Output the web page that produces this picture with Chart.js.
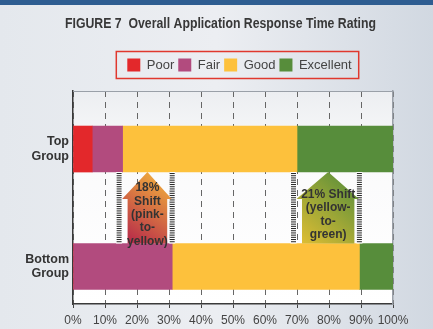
<!DOCTYPE html>
<html lang="en">
<head>
  <meta charset="UTF-8">
  <title>Overall Application Response Time Rating</title>
  <script src="https://cdn.jsdelivr.net/npm/chart.js"></script>
  <style>
    html, body { margin: 0; padding: 0; background: #e6e9ee; }
  </style>
</head>
<body>
  <canvas id="myChart" width="433" height="329"></canvas>

  <script>
    // percent of respondents per rating, [Top Group, Bottom Group]
    const groups = ['Top Group', 'Bottom Group'];
    const ratings = ['Poor', 'Fair', 'Good', 'Excellent'];
    const poor = [6, 0];
    const fair = [9.5, 31];
    const good = [54.5, 58.5];
    const excellent = [30, 10.5];
    const xTicks = [0, 10, 20, 30, 40, 50, 60, 70, 80, 90, 100];
    const titleText = 'FIGURE 7  Overall Application Response Time Rating';

    // shift callouts: rating index whose right edge the arrow spans, and its text lines
    const shiftAfter = [1, 2];
    const shiftNotes = [
      ['18%', 'Shift', '(pink-', 'to-', 'yellow)'],
      ['21% Shift', '(yellow-', 'to-', 'green)']
    ];

    const series = [poor, fair, good, excellent];
    const colors = ['#e3282b', '#b24b7e', '#fdc13c', '#578d3b'];
    const arrowColors = [['#b3214a', '#f7bd3c'], ['#e3bf33', '#4c8a3b']];
    const sans = '"Liberation Sans", Arial, sans-serif';

    // sum of a group's ratings up to and including index k
    function cum(group, k) {
      let s = 0;
      for (let i = 0; i <= k; i++) s += series[i][group];
      return s;
    }

    const backdrop = {
      id: 'backdrop',
      afterLayout(chart) {
        // legend sits a little right of centre in the original
        chart.legend.left += 6.5;
        chart.legend.right += 6.5;
      },
      beforeDraw(chart) {
        const { ctx, width, height, chartArea: a } = chart;
        ctx.save();
        let g = ctx.createLinearGradient(0, 0, width, 0);
        g.addColorStop(0, '#e4e8ed');
        g.addColorStop(0.5, '#eceef2');
        g.addColorStop(1, '#d1d8e1');
        ctx.fillStyle = g;
        ctx.fillRect(0, 0, width, height);
        ctx.fillStyle = '#2e5d91';
        ctx.fillRect(0, 0, width, 5);
        g = ctx.createLinearGradient(0, a.top, 0, a.bottom);
        g.addColorStop(0, '#eceef1');
        g.addColorStop(0.3, '#fafafb');
        g.addColorStop(1, '#ffffff');
        ctx.fillStyle = g;
        ctx.fillRect(a.left, a.top, a.width, a.height);
        ctx.restore();
      },
      afterDraw(chart) {
        const ctx = chart.ctx;
        ctx.save();
        // heading, squeezed to the narrow look of the original
        ctx.font = 'bold 14px ' + sans;
        ctx.fillStyle = '#383838';
        ctx.textAlign = 'center';
        ctx.textBaseline = 'middle';
        const w = ctx.measureText(titleText).width;
        ctx.translate(220.5, 24);
        ctx.scale(311 / w, 1);
        ctx.fillText(titleText, 0, 0);
        ctx.restore();

        // red frame round the legend
        const boxes = chart.legend.legendHitBoxes;
        if (!boxes.length) return;
        const first = boxes[0], last = boxes[boxes.length - 1];
        const cy = first.top + first.height / 2;
        ctx.save();
        ctx.strokeStyle = '#e0382e';
        ctx.lineWidth = 1.5;
        ctx.strokeRect(first.left - 11, cy - 13.5, last.left + last.width + 7 - (first.left - 11), 27);
        ctx.restore();
      }
    };

    const shifts = {
      id: 'shifts',
      afterDatasetsDraw(chart) {
        const ctx = chart.ctx;
        const xs = chart.scales.x;
        const bars = chart.getDatasetMeta(1).data;
        const yTop = bars[0].y + bars[0].height / 2;
        const yBot = bars[1].y - bars[1].height / 2;
        ctx.save();
        shiftAfter.forEach((k, i) => {
          const b1 = xs.getPixelForValue(cum(0, k));
          const b2 = xs.getPixelForValue(cum(1, k));

          // ladder strips either side
          [[b1 - 6.5, b1 - 0.5], [b2 - 3, b2 + 3]].forEach(([l, r]) => {
            ctx.fillStyle = '#ffffff';
            ctx.fillRect(l, yTop, r - l, yBot - yTop);
            ctx.fillStyle = '#222222';
            for (let y = yTop + 1; y < yBot - 1; y += 2.2) {
              ctx.fillRect(l + 0.5, y, r - l - 1, 1);
            }
          });

          // gradient arrow pointing up
          const cx = (b1 + b2) / 2;
          const headY = yTop + 27;
          const inset = 5;
          const g = ctx.createLinearGradient(b1, yBot, b2, yTop);
          g.addColorStop(0, arrowColors[i][0]);
          g.addColorStop(1, arrowColors[i][1]);
          ctx.fillStyle = g;
          ctx.beginPath();
          ctx.moveTo(cx, yTop);
          ctx.lineTo(b2 - 0.5, headY);
          ctx.lineTo(b2 - inset, headY);
          ctx.lineTo(b2 - inset, yBot);
          ctx.lineTo(b1 + inset, yBot);
          ctx.lineTo(b1 + inset, headY);
          ctx.lineTo(b1 - 0.5, headY);
          ctx.closePath();
          ctx.fill();

          // callout text
          const lines = shiftNotes[i];
          const lh = 13.3;
          const mid = (yTop + yBot) / 2 + 7;
          ctx.fillStyle = '#333333';
          ctx.font = 'bold 12px ' + sans;
          ctx.textAlign = 'center';
          ctx.textBaseline = 'middle';
          lines.forEach((t, j) => {
            ctx.fillText(t, cx, mid + (j - (lines.length - 1) / 2) * lh);
          });
        });
        ctx.restore();
      }
    };

    const ctx = document.getElementById('myChart').getContext('2d');
    new Chart(ctx, {
      type: 'bar',
      data: {
        datasets: ratings.map((r, i) => ({
          label: r,
          data: series[i].map((v, j) => ({ x: v, y: j + 1 })),
          backgroundColor: colors[i],
          borderWidth: 0,
          barThickness: 46,
          xAxisID: 'x',
          yAxisID: 'y'
        }))
      },
      options: {
        indexAxis: 'y',
        responsive: false,
        animation: false,
        devicePixelRatio: 1,
        layout: { padding: { top: 54.5, left: 0, right: 0, bottom: 0 } },
        plugins: {
          title: { display: false },
          legend: {
            position: 'top',
            fullSize: false,
            labels: {
              boxWidth: 13,
              boxHeight: 13,
              padding: 4,
              color: '#444444',
              font: { family: sans, size: 13 }
            }
          },
          tooltip: { enabled: false }
        },
        scales: {
          x: {
            type: 'linear',
            position: 'bottom',
            min: 0,
            max: 100,
            stacked: true,
            afterBuildTicks: s => { s.ticks = xTicks.map(v => ({ value: v })); },
            afterFit: s => { s.height = 25; },
            ticks: {
              callback: v => v + '%',
              color: '#444444',
              padding: 5,
              maxRotation: 0,
              autoSkip: false,
              font: { family: sans, size: 12 }
            },
            grid: {
              color: '#666666',
              lineWidth: 1,
              drawTicks: true,
              tickLength: 4,
              tickColor: '#444444'
            },
            border: { color: '#3a3a3a', width: 1.5, dash: [6, 5] }
          },
          y: {
            type: 'linear',
            position: 'left',
            reverse: true,
            offset: false,
            min: 0.506,
            max: 2.319,
            stacked: true,
            afterBuildTicks: s => { s.ticks = groups.map((g, i) => ({ value: i + 1 })); },
            afterFit: s => { s.width = 73; },
            ticks: {
              callback: v => groups[v - 1] ? groups[v - 1].split(' ') : '',
              color: '#333333',
              padding: 4,
              font: { family: sans, size: 12.5, weight: 'bold', lineHeight: 1.15 }
            },
            grid: { display: false, drawTicks: false, offset: false },
            border: { color: '#3a3a3a', width: 1.5 }
          },
          x2: {
            type: 'linear',
            position: 'top',
            min: 0,
            max: 100,
            afterFit: s => { s.height = 9.5; },
            ticks: { display: false },
            grid: { display: false, drawTicks: false },
            border: { color: '#9aa0a8', width: 1 }
          },
          y2: {
            type: 'linear',
            position: 'right',
            min: 0,
            max: 1,
            afterFit: s => { s.width = 40; },
            ticks: { display: false },
            grid: { display: false, drawTicks: false },
            border: { color: '#9aa0a8', width: 1.5 }
          }
        }
      },
      plugins: [backdrop, shifts]
    });
  </script>
</body>
</html>
